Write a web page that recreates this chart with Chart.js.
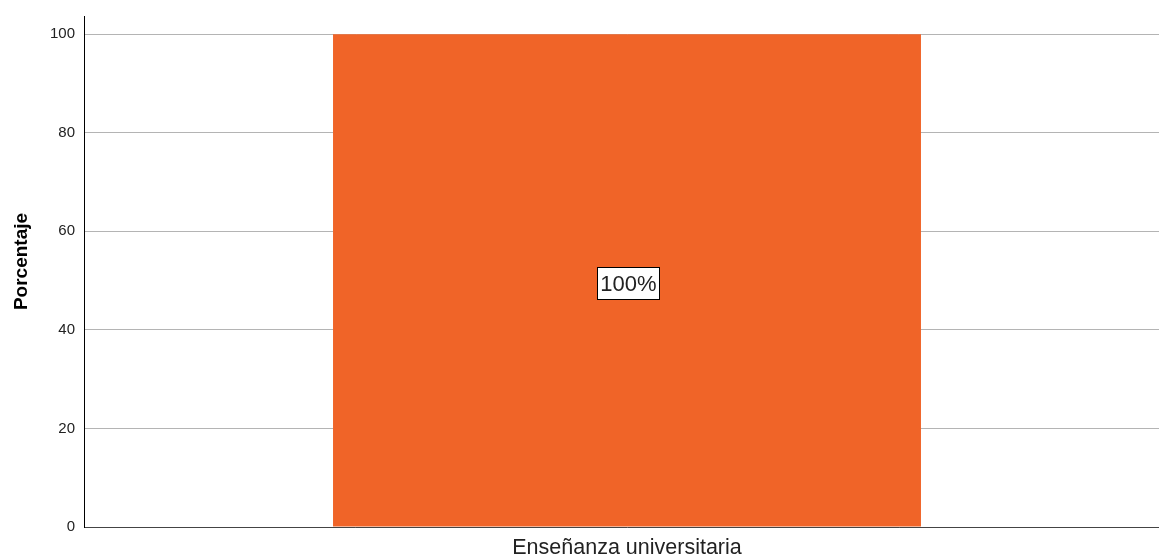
<!DOCTYPE html>
<html>
<head>
<meta charset="utf-8">
<script src="https://cdn.jsdelivr.net/npm/chart.js@4"></script>
<style>
  html, body { margin: 0; padding: 0; background: #fff; }
  /* l'area del grafico continua oltre il bordo destro, come nell'originale */
  #clip { width: 1159px; height: 556px; overflow: hidden; }
  #wrap { width: 1170px; height: 556px; position: relative; }
</style>
</head>
<body>
<div id="clip"><div id="wrap"><canvas id="chart"></canvas></div></div>
<script>
// dati del grafico
const categories = ["Enseñanza universitaria"];
const percentages = [100];
const valueLabels = ["100%"];
const yTicks = [0, 20, 40, 60, 80, 100];
const yTitle = "Porcentaje";

const FONT = "'Liberation Sans', Arial, sans-serif";

// etichetta del valore in un riquadro bianco al centro della barra
const boxLabels = {
  id: "boxLabels",
  afterDatasetsDraw(chart) {
    const ctx = chart.ctx;
    const meta = chart.getDatasetMeta(0);
    meta.data.forEach((bar, i) => {
      const cx = bar.x + 1;
      const cy = (bar.y + bar.base) / 2 + 3;
      ctx.save();
      ctx.font = "22px " + FONT;
      const w = Math.round(ctx.measureText(valueLabels[i]).width + 7);
      const h = 33;
      const x0 = Math.round(cx - w / 2);
      const y0 = Math.round(cy - h / 2);
      ctx.fillStyle = "#fff";
      ctx.fillRect(x0, y0, w, h);
      ctx.strokeStyle = "#000";
      ctx.lineWidth = 1;
      ctx.strokeRect(x0 + 0.5, y0 + 0.5, w - 1, h - 1);
      ctx.fillStyle = "#222";
      ctx.textAlign = "center";
      ctx.textBaseline = "middle";
      ctx.fillText(valueLabels[i], x0 + w / 2, y0 + h / 2 + 1);
      ctx.restore();
    });
  }
};

// titolo dell'asse y, un po' sopra il centro come nell'originale
const yTitlePlugin = {
  id: "yTitlePlugin",
  afterDraw(chart) {
    const ctx = chart.ctx;
    const area = chart.chartArea;
    ctx.save();
    ctx.translate(22, (area.top + area.bottom) / 2 - 10);
    ctx.rotate(-Math.PI / 2);
    ctx.font = "bold 19px " + FONT;
    ctx.fillStyle = "#000";
    ctx.textAlign = "center";
    ctx.textBaseline = "middle";
    ctx.fillText(yTitle, 0, 0);
    ctx.restore();
  }
};

new Chart(document.getElementById("chart"), {
  type: "bar",
  data: {
    labels: categories,
    datasets: [{
      data: percentages,
      backgroundColor: "#f06428",
      borderWidth: 0,
      categoryPercentage: 1,
      barPercentage: 0.5414
    }]
  },
  options: {
    responsive: true,
    maintainAspectRatio: false,
    animation: false,
    layout: { padding: { top: 16, right: 0, left: 0, bottom: 0 } },
    plugins: { legend: { display: false }, tooltip: { enabled: false } },
    scales: {
      x: {
        grid: { display: false, drawTicks: false },
        border: { color: "#444", width: 1 },
        ticks: {
          color: "#222",
          padding: 8,
          font: { family: FONT, size: 21.5 }
        },
        afterFit(scale) { scale.height = 29; }
      },
      y: {
        min: 0,
        max: 103.7,
        afterBuildTicks(scale) { scale.ticks = yTicks.map(v => ({ value: v })); },
        grid: { color: "#b4b4b4", lineWidth: 1, drawTicks: false },
        border: { color: "#000", width: 1 },
        ticks: {
          color: "#222",
          padding: 9,
          font: { family: FONT, size: 15 }
        },
        afterFit(scale) {
          scale.width = 84;
          scale.paddingTop = 0;
          scale.paddingBottom = 0;
        }
      }
    }
  },
  plugins: [boxLabels, yTitlePlugin]
});
</script>
</body>
</html>
